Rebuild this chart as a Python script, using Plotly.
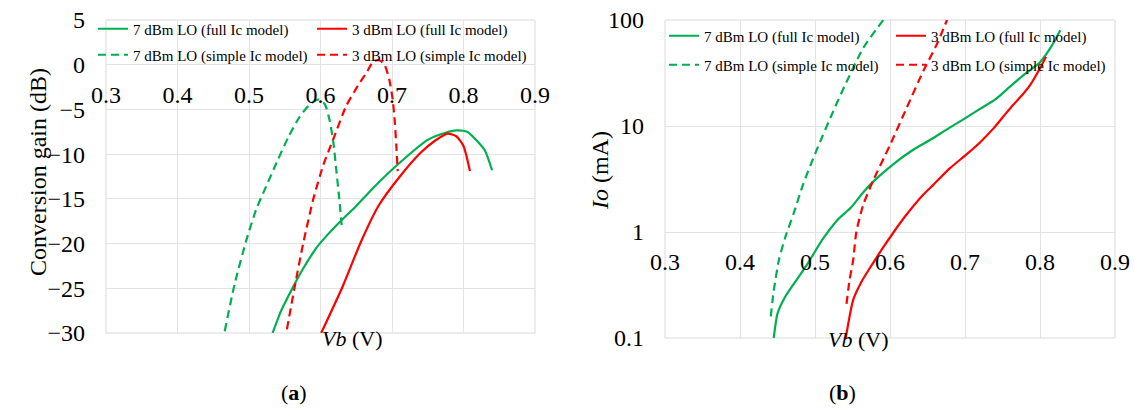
import plotly.graph_objects as go

# ---- (a) conversion gain versus base bias ----
vb_a_7_full = [0.533, 0.545, 0.560, 0.575, 0.595, 0.610, 0.628, 0.650, 0.671, 0.706,
               0.750, 0.775, 0.790, 0.805, 0.821, 0.830, 0.840]
cg_a_7_full = [-30.0, -27.5, -25.1, -22.9, -20.4, -19.0, -17.5, -15.8, -14.0, -11.3,
               -8.4, -7.6, -7.35, -7.5, -8.7, -9.6, -11.8]

vb_a_3_full = [0.601, 0.631, 0.656, 0.681, 0.711, 0.740, 0.760, 0.778, 0.790, 0.800, 0.809]
cg_a_3_full = [-30.0, -24.8, -19.9, -15.8, -12.5, -9.85, -8.5, -7.7, -8.0, -9.1, -11.9]

vb_a_7_simple = [0.466, 0.480, 0.496, 0.510, 0.524, 0.540, 0.555, 0.571, 0.587, 0.597,
                 0.606, 0.613, 0.618, 0.622, 0.626, 0.630]
cg_a_7_simple = [-29.8, -24.5, -19.7, -16.2, -13.6, -10.7, -8.1, -5.8, -4.3, -3.9,
                 -4.4, -6.3, -8.7, -11.7, -14.8, -18.3]

vb_a_3_simple = [0.553, 0.564, 0.576, 0.590, 0.604, 0.618, 0.636, 0.655, 0.665, 0.674,
                 0.682, 0.689, 0.696, 0.701, 0.704, 0.706, 0.708]
cg_a_3_simple = [-29.6, -24.8, -19.9, -15.0, -11.2, -8.3, -4.6, -2.0, -0.8, 0.4,
                 0.5, 0.1, -1.6, -3.9, -6.5, -9.0, -11.9]

# ---- (b) output current versus base bias ----
vb_b_7_full = [0.445, 0.450, 0.461, 0.475, 0.490, 0.510, 0.530, 0.548, 0.565, 0.580,
               0.605, 0.630, 0.655, 0.678, 0.700, 0.720, 0.740, 0.760, 0.780, 0.800,
               0.815, 0.827]
io_b_7_full = [0.10, 0.17, 0.25, 0.35, 0.50, 0.85, 1.3, 1.7, 2.4, 3.1,
               4.4, 5.9, 7.5, 9.5, 11.8, 14.5, 17.7, 23.5, 31.0, 40.0,
               56.0, 80.0]

vb_b_3_full = [0.541, 0.551, 0.562, 0.575, 0.590, 0.605, 0.620, 0.643, 0.658, 0.680,
               0.702, 0.720, 0.738, 0.752, 0.764, 0.776, 0.787, 0.800, 0.808]
io_b_3_full = [0.10, 0.23, 0.34, 0.48, 0.70, 1.0, 1.4, 2.2, 2.8, 4.0,
               5.4, 7.0, 9.5, 12.5, 15.8, 19.5, 24.4, 35.0, 45.0]

vb_b_7_simple = [0.441, 0.445, 0.452, 0.461, 0.472, 0.484, 0.502, 0.524, 0.542, 0.564, 0.591]
io_b_7_simple = [0.16, 0.28, 0.55, 0.92, 1.53, 2.8, 5.9, 13.6, 26.0, 54.0, 100.0]

vb_b_3_simple = [0.542, 0.546, 0.551, 0.555, 0.564, 0.577, 0.600, 0.622, 0.644, 0.662, 0.676]
io_b_3_simple = [0.21, 0.35, 0.55, 0.99, 1.78, 3.0, 6.6, 14.7, 32.6, 58.0, 100.0]

series_names = ["7 dBm LO (full Ic model)", "3 dBm LO (full Ic model)",
                "7 dBm LO (simple Ic model)", "3 dBm LO (simple Ic model)"]

GREEN = "#00B050"
RED = "#FF0000"
DASH = "8px,5px"
FONT = "Liberation Serif, Times New Roman, serif"
GRID = "#E3E3E3"

W, H = 1134, 419


def px_x(p):
    return p / W


def px_y(p):
    return 1 - p / H


# plot-area placement of the two panels
xa_dom = [px_x(106), px_x(535)]
xb_dom = [px_x(665), px_x(1115)]
ya_dom = [px_y(333), px_y(20)]
yb_dom = [px_y(338), px_y(20)]

ya_range = [-30, 5]
yb_range = [-1, 2]  # log10 of mA

# x axes cross the y axes at 0 dB and at 1 mA
xa_pos = ya_dom[0] + (0 - ya_range[0]) / (ya_range[1] - ya_range[0]) * (ya_dom[1] - ya_dom[0])
xb_pos = yb_dom[0] + (0 - yb_range[0]) / (yb_range[1] - yb_range[0]) * (yb_dom[1] - yb_dom[0])

fig = go.Figure()

panel_a = [
    (vb_a_7_full, cg_a_7_full, GREEN, "solid"),
    (vb_a_3_full, cg_a_3_full, RED, "solid"),
    (vb_a_7_simple, cg_a_7_simple, GREEN, DASH),
    (vb_a_3_simple, cg_a_3_simple, RED, DASH),
]
panel_b = [
    (vb_b_7_full, io_b_7_full, GREEN, "solid"),
    (vb_b_3_full, io_b_3_full, RED, "solid"),
    (vb_b_7_simple, io_b_7_simple, GREEN, DASH),
    (vb_b_3_simple, io_b_3_simple, RED, DASH),
]

legend_ids = ["legend", "legend2", "legend3", "legend4",
              "legend5", "legend6", "legend7", "legend8"]

for i, (xs, ys, col, dash) in enumerate(panel_a):
    fig.add_trace(go.Scatter(x=xs, y=ys, mode="lines", name=series_names[i],
                             line=dict(color=col, width=2.2, dash=dash, shape="spline",
                                       smoothing=0.6),
                             xaxis="x", yaxis="y", legend=legend_ids[i]))
for i, (xs, ys, col, dash) in enumerate(panel_b):
    fig.add_trace(go.Scatter(x=xs, y=ys, mode="lines", name=series_names[i],
                             line=dict(color=col, width=2.2, dash=dash, shape="spline",
                                       smoothing=0.6),
                             xaxis="x2", yaxis="y2", legend=legend_ids[4 + i]))

tickfont = dict(family=FONT, size=24, color="#000000")

common_x = dict(range=[0.3, 0.9], tick0=0.3, dtick=0.1, tickformat=".1f",
                showgrid=True, gridcolor=GRID, gridwidth=1, zeroline=False,
                showline=False, ticks="", tickfont=tickfont, anchor="free",
                automargin=False)
common_y = dict(showgrid=True, gridcolor=GRID, gridwidth=1, zeroline=False,
                showline=False, ticks="", tickfont=tickfont, ticklabelstandoff=20,
                automargin=False)

fig.update_layout(
    width=W, height=H,
    margin=dict(l=0, r=0, t=0, b=0, autoexpand=False),
    paper_bgcolor="white", plot_bgcolor="white",
    font=dict(family=FONT, color="#000000"),
    xaxis=dict(domain=xa_dom, position=xa_pos, ticklabelstandoff=13, **common_x),
    yaxis=dict(domain=ya_dom, range=ya_range, dtick=5, anchor="x", **common_y),
    xaxis2=dict(domain=xb_dom, position=xb_pos, ticklabelstandoff=13, **common_x),
    yaxis2=dict(domain=yb_dom, type="log", range=yb_range,
                tickvals=[0.1, 1, 10, 100], ticktext=["0.1", "1", "10", "100"],
                anchor="x2", **common_y),
    showlegend=True,
)

# legends: two columns, two rows in each panel
legend_slots = [
    (93, 29), (312, 29), (93, 55), (312, 55),
    (664, 36), (891, 36), (664, 65), (891, 65),
]
legend_layout = {}
for lid, (lx, ly) in zip(legend_ids, legend_slots):
    legend_layout[lid] = dict(x=px_x(lx), y=px_y(ly), xanchor="left", yanchor="middle",
                              bgcolor="rgba(0,0,0,0)", borderwidth=0, itemwidth=30,
                              font=dict(family=FONT, size=15, color="#000000"))
fig.update_layout(**legend_layout)

# light frame round each plot area
for xr, yr in (("x domain", "y domain"), ("x2 domain", "y2 domain")):
    fig.add_shape(type="rect", xref=xr, yref=yr, x0=0, x1=1, y0=0, y1=1,
                  line=dict(color="#D9D9D9", width=1), layer="below")

title_font = dict(family=FONT, size=24, color="#000000")
fig.add_annotation(text="Conversion gain (dB)", textangle=-90, x=px_x(23), y=px_y(172),
                   xref="paper", yref="paper", showarrow=False, font=title_font)
fig.add_annotation(text="<i>Io</i> (mA)", textangle=-90, x=px_x(600), y=px_y(171),
                   xref="paper", yref="paper", showarrow=False, font=title_font)
fig.add_annotation(text="<i>Vb</i> (V)", x=px_x(320), y=px_y(353),
                   xref="paper", yref="paper", showarrow=False,
                   font=dict(family=FONT, size=22, color="#000000"))
fig.add_annotation(text="<i>Vb</i> (V)", x=px_x(891), y=px_y(354),
                   xref="paper", yref="paper", showarrow=False,
                   font=dict(family=FONT, size=22, color="#000000"))
fig.add_annotation(text="(<b>a</b>)", x=px_x(279), y=px_y(407),
                   xref="paper", yref="paper", showarrow=False,
                   font=dict(family=FONT, size=22, color="#000000"))
fig.add_annotation(text="(<b>b</b>)", x=px_x(858), y=px_y(407),
                   xref="paper", yref="paper", showarrow=False,
                   font=dict(family=FONT, size=22, color="#000000"))

fig.write_html("out.html")
